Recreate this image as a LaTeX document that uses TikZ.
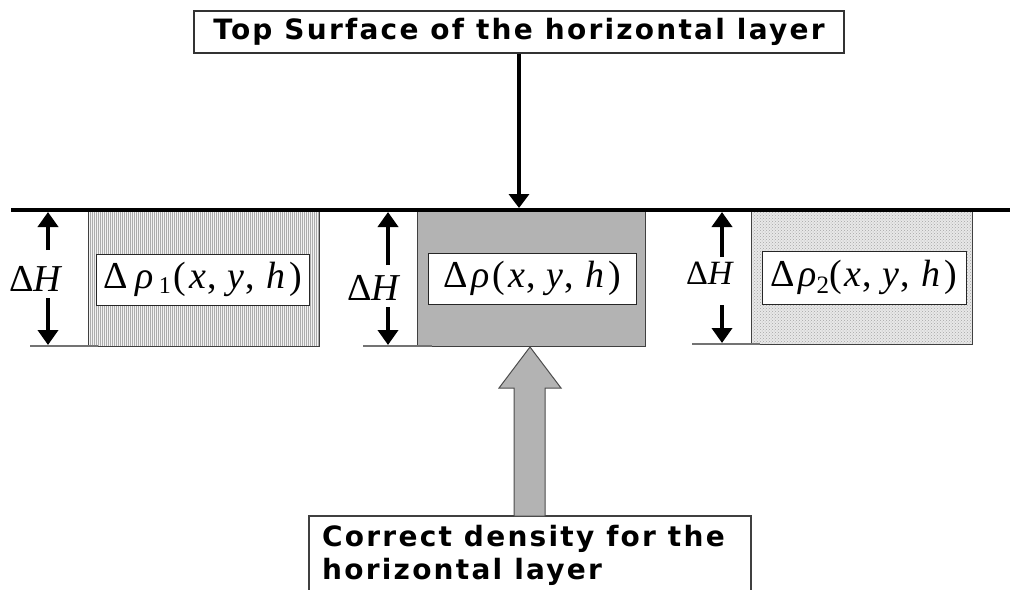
\documentclass[tikz,border=0pt]{standalone}
\usepackage{fontspec}
\newfontfamily\vb{DejaVu Sans}[LetterSpace=8]
\newfontfamily\tms{Liberation Serif}
\usetikzlibrary{arrows.meta,patterns,patterns.meta}
\definecolor{midgray}{RGB}{179,179,179}
\newcommand{\argsxyh}{(\hspace{3pt}\textit{x}\hspace{1pt},\hspace{1pt} \textit{y}\hspace{1pt},\hspace{2pt} \textit{h}\hspace{4pt})}
\tikzset{
  layerbox/.style={draw=black!75, line width=1.2pt, inner sep=0pt, anchor=north west},
  lbl/.style={draw=black!85, fill=white, line width=1pt, inner sep=0pt,
              font=\tms\fontsize{38}{40}\selectfont},
  dhlbl/.style={inner sep=0pt, font=\tms\fontsize{38}{40}\selectfont},
  dharrow/.style={line width=4.5pt, -{Triangle[width=20pt,length=15pt]}},
  baseline/.style={draw=black!55, line width=1.2pt},
  titlebox/.style={draw=black!80, line width=1.2pt, inner sep=0pt,
              font=\vb\bfseries\fontsize{28}{33}\selectfont},
}
\begin{document}
\begin{tikzpicture}[x=1pt,y=-1pt]
\useasboundingbox (0,0) rectangle (1019,589);
\clip (0,0) rectangle (1019,589);

% title box
\node[titlebox, minimum width=650pt, minimum height=42pt] (top) at (519,32) {Top Surface of the horizontal layer};

% layer boxes
\node[layerbox, minimum width=231pt, minimum height=135pt,
      preaction={fill=gray!10},
      pattern={Lines[angle=90,distance=2pt,line width=0.35pt]}, pattern color=gray!65] (b1) at (88,211) {};
\node[layerbox, minimum width=228pt, minimum height=135pt, fill=midgray] (b2) at (417,211) {};
\node[layerbox, minimum width=221pt, minimum height=133pt,
      preaction={fill=gray!18},
      pattern=crosshatch dots, pattern color=gray!70] (b3) at (751,211) {};

% inner labels
\node[lbl, minimum width=213pt, minimum height=51pt] (l1) at (202.5,279.5)
  {Δ\hspace{8pt}\textit{ρ}\hspace{5pt}\raisebox{-5pt}{\fontsize{24}{24}\selectfont 1}\hspace{3pt}\argsxyh};
\node[lbl, minimum width=208pt, minimum height=51pt] (l2) at (532,278.5)
  {Δ\hspace{4pt}\textit{ρ}\hspace{3pt}\argsxyh};
\node[lbl, minimum width=204pt, minimum height=53pt] (l3) at (864,277.5)
  {Δ\hspace{3pt}\textit{ρ}\raisebox{-7pt}{\fontsize{25}{25}\selectfont 2}\argsxyh};

% surface line
\coordinate (L) at (11,210);
\coordinate (R) at (1010,210);
\draw[line width=4.6pt] (L) -- (R);

% arrow from title
\coordinate (tiptop) at (519,208);
\draw[line width=4pt, -{Triangle[width=20pt,length=14pt]}] (top.south) -- (tiptop);

% Delta H labels and arrows
\node[dhlbl] (dh1) at (36,279) {Δ\textit{H}};
\node[dhlbl] (dh2) at (374,288) {Δ\textit{H}};
\node[dhlbl, font=\tms\fontsize{34}{36}\selectfont] (dh3) at (710,273) {Δ\textit{H}};

\coordinate (u1a) at (48,250); \coordinate (u1b) at (48,212);
\coordinate (d1a) at (48,298); \coordinate (d1b) at (48,345);
\coordinate (u2a) at (388,265); \coordinate (u2b) at (388,212);
\coordinate (d2a) at (388,307); \coordinate (d2b) at (388,345);
\coordinate (u3a) at (722,257); \coordinate (u3b) at (722,212);
\coordinate (d3a) at (722,305); \coordinate (d3b) at (722,343);
\draw[dharrow] (u1a) -- (u1b);
\draw[dharrow] (d1a) -- (d1b);
\draw[dharrow] (u2a) -- (u2b);
\draw[dharrow] (d2a) -- (d2b);
\draw[dharrow] (u3a) -- (u3b);
\draw[dharrow] (d3a) -- (d3b);

% base lines
\coordinate (bl1) at (30,346); \coordinate (br1) at (98,346);
\coordinate (bl2) at (363,346); \coordinate (br2) at (432,346);
\coordinate (bl3) at (692,344); \coordinate (br3) at (760,344);
\draw[baseline] (bl1) -- (br1);
\draw[baseline] (bl2) -- (br2);
\draw[baseline] (bl3) -- (br3);

% bottom box
\coordinate (bbl) at (309,600);
\coordinate (btl) at (309,516);
\coordinate (btr) at (751,516);
\coordinate (bbr) at (751,600);
\draw[draw=black!75, line width=1.2pt] (bbl) -- (btl) -- (btr) -- (bbr);
\node[anchor=north west, inner sep=0pt, align=left,
      font=\vb\bfseries\fontsize{28}{33}\selectfont] (bottxt) at (322,525)
  {Correct density for the\\horizontal layer};

% block arrow
\draw[fill=midgray, draw=black!70, line width=1pt]
  (514,516) -- (514,388) -- (499,388) -- (530,347) -- (561,388) -- (545,388) -- (545,516) -- cycle;
\end{tikzpicture}
\end{document}
